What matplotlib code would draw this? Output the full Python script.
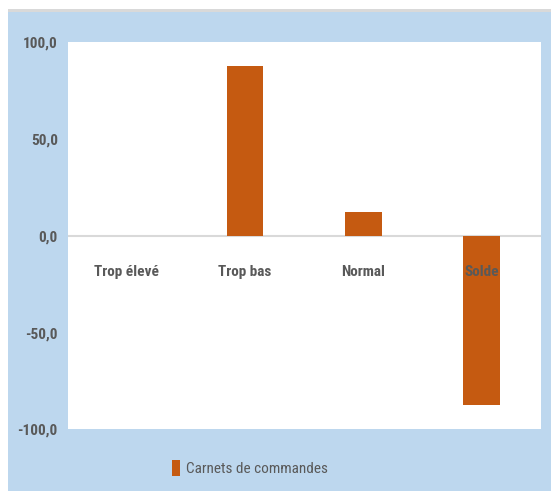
import matplotlib
matplotlib.use('Agg')
import matplotlib.pyplot as plt
from matplotlib.patches import Rectangle, Patch
from matplotlib import font_manager

categories = ['Trop élevé', 'Trop bas', 'Normal', 'Solde']
values = [0.0, 87.5, 12.5, -87.5]
series_name = 'Carnets de commandes'
y_ticks = [-100, -50, 0, 50, 100]

bar_color = '#C55A11'
bg_blue = '#BDD7EE'
text_gray = '#595959'

installed = {f.name for f in font_manager.fontManager.ttflist}
families = [f for f in ['Liberation Sans Narrow', 'Roboto Condensed', 'Open Sans Condensed',
                        'Roboto', 'DejaVu Sans'] if f in installed]
plt.rcParams['font.family'] = families

fig = plt.figure(figsize=(5.51, 4.91), dpi=100)
fig.patch.set_facecolor('white')

# light blue frame behind the chart
fig.patches.append(Rectangle((8 / 551, 0), 1, 1 - 12 / 491, transform=fig.transFigure,
                             facecolor=bg_blue, edgecolor='none', zorder=-2))
fig.patches.append(Rectangle((8 / 551, 1 - 12 / 491), 1, 3 / 491, transform=fig.transFigure,
                             facecolor='#D9D9D9', edgecolor='none', zorder=-2))

ax = fig.add_axes([67.5 / 551, 1 - 429.3 / 491, (541 - 67.5) / 551, (429.3 - 42.3) / 491])
ax.set_zorder(1)
ax.set_facecolor('white')

x = list(range(len(categories)))
ax.bar(x, values, width=0.31, color=bar_color, linewidth=0,
       label=series_name, zorder=2)
ax.axhline(0, color='#D9D9D9', linewidth=1.5, zorder=1)

ax.set_xlim(-0.5, len(categories) - 0.5)
ax.set_ylim(-100, 100)
ax.set_yticks(y_ticks)
ax.set_yticklabels([f'{v:.1f}'.replace('.', ',') for v in y_ticks],
                   fontsize=11, fontweight='bold', color=text_gray)
ax.tick_params(axis='y', length=0, pad=7)
ax.set_xticks([])
for s in ax.spines.values():
    s.set_visible(False)

for i, c in enumerate(categories):
    ax.annotate(c, xy=(i, 0), xytext=(0, -26), textcoords='offset points',
                ha='center', va='center', fontsize=11, fontweight='bold',
                color=text_gray, zorder=3)

handle = Patch(facecolor=bar_color, edgecolor='none')
leg = fig.legend([handle], [series_name], loc='center', bbox_to_anchor=(0.454, 0.047),
                 frameon=False, fontsize=11, handlelength=0.5, handleheight=1.2,
                 handletextpad=0.4)
for t in leg.get_texts():
    t.set_color(text_gray)

fig.savefig('out.png', dpi=100)
